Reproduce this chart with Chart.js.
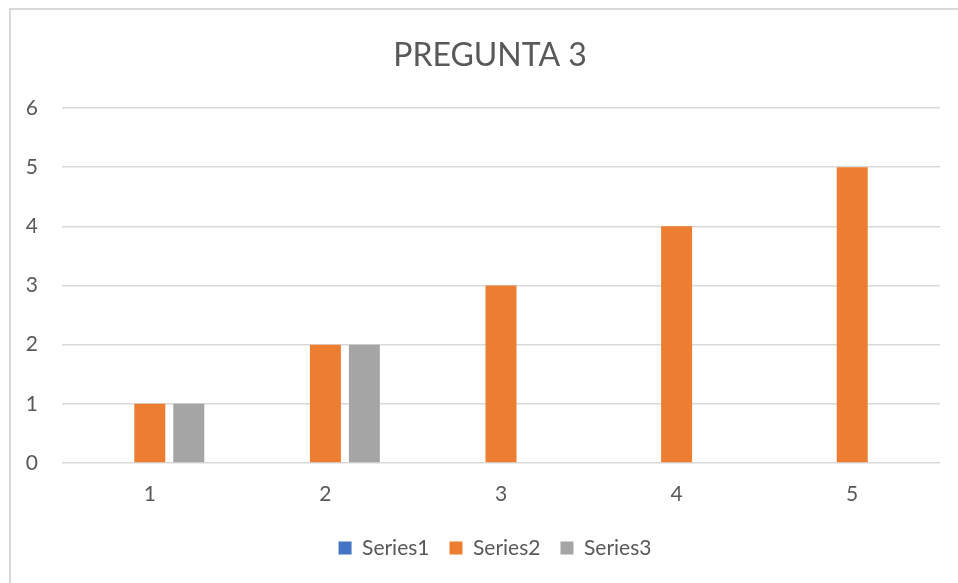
<!DOCTYPE html>
<html>
<head>
<meta charset="utf-8">
<script src="https://cdn.jsdelivr.net/npm/chart.js@4"></script>
<style>
  body { margin: 0; background: #fff; overflow: hidden; }
  #frame { position: absolute; left: 9px; top: 8px; width: 1000px; height: 1000px; border: 2px solid #d9d9d9; }
  #wrap { position: absolute; left: 0; top: 0; width: 958px; height: 583px; }
</style>
</head>
<body>
<div id="frame"></div>
<div id="wrap"><canvas id="chart" width="958" height="583"></canvas></div>
<script>
// chart values
const categories = ['1', '2', '3', '4', '5'];
const series1 = [0, 0, 0, 0, 0];
const series2 = [1, 2, 3, 4, 5];
const series3 = [1, 2, 0, 0, 0];
const seriesNames = ['Series1', 'Series2', 'Series3'];
const yTicks = [0, 1, 2, 3, 4, 5, 6];

const textColor = '#595959';
const fontFamily = 'Lato, "Open Sans", sans-serif';

// title and legend are centred on the outer frame, not on the plot
const recentre = {
    id: 'recentre',
    afterLayout: function (chart) {
        if (chart.titleBlock) {
            chart.titleBlock.left = 40;
            chart.titleBlock.right = 940;
        }
        if (chart.legend) {
            chart.legend.left = 40;
            chart.legend.right = 950;
        }
    }
};

const ctx = document.getElementById('chart').getContext('2d');

new Chart(ctx, {
    type: 'bar',
    data: {
        labels: categories,
        datasets: [
            { label: seriesNames[0], data: series1, backgroundColor: '#4472C4' },
            { label: seriesNames[1], data: series2, backgroundColor: '#ED7D31' },
            { label: seriesNames[2], data: series3, backgroundColor: '#A5A5A5' }
        ]
    },
    plugins: [recentre],
    options: {
        responsive: false,
        animation: false,
        categoryPercentage: 0.666,
        barPercentage: 0.795,
        layout: { padding: { left: 0, right: 18, top: 0, bottom: 14.5 } },
        scales: {
            x: {
                grid: { display: false, drawTicks: false },
                border: { display: false },
                ticks: { color: textColor, font: { family: fontFamily, size: 21 }, padding: 19 },
                afterFit: function (scale) { scale.height = 54.5; }
            },
            y: {
                min: 0,
                max: 6,
                afterBuildTicks: function (scale) {
                    scale.ticks = yTicks.map(function (v) { return { value: v }; });
                },
                grid: { color: '#d9d9d9', lineWidth: 1.5, drawTicks: false },
                border: { display: false },
                ticks: { color: textColor, font: { family: fontFamily, size: 21 }, padding: 24 },
                afterFit: function (scale) { scale.width = 62; }
            }
        },
        plugins: {
            title: {
                display: true,
                text: 'PREGUNTA 3',
                color: textColor,
                font: { family: fontFamily, size: 32, weight: 'normal' },
                padding: { top: 36, bottom: 33.6 }
            },
            legend: {
                position: 'bottom',
                labels: {
                    color: textColor,
                    font: { family: fontFamily, size: 21 },
                    boxWidth: 13,
                    boxHeight: 13,
                    padding: 20
                }
            },
            tooltip: { enabled: false }
        }
    }
});
</script>
</body>
</html>
